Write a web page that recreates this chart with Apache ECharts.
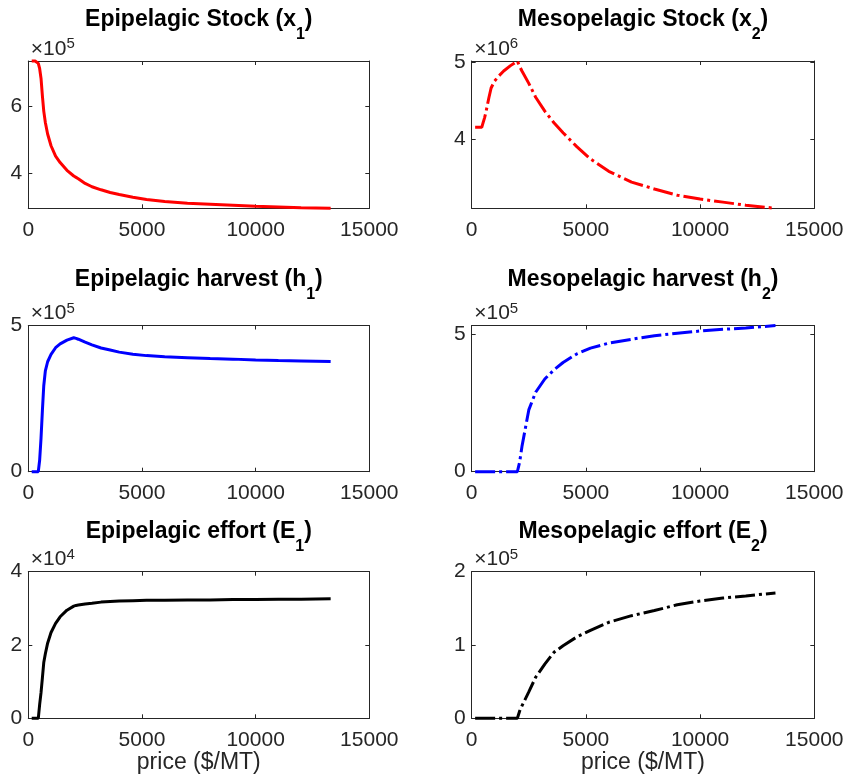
<!DOCTYPE html>
<html>
<head>
<meta charset="utf-8">
<script src="https://cdn.jsdelivr.net/npm/echarts@6/dist/echarts.min.js"></script>
<style>
  html, body { margin: 0; padding: 0; background: #fff; }
  #chart { width: 845px; height: 784px; }
</style>
</head>
<body>
<div id="chart"></div>
<script>
// price grid ($/MT), shared by all panels
var price = [150, 300, 440, 500, 560, 620, 680, 750, 850, 1000, 1200, 1400, 1700, 2000, 2100,
             2200, 2500, 2800, 3200, 3600, 4000, 4600, 5200, 6000, 7000, 8000, 9000, 10000,
             11000, 12000, 13300];

// stocks
var epiStock = [7.34e5, 7.34e5, 7.27e5, 7.11e5, 6.82e5, 6.30e5, 5.85e5, 5.51e5, 5.17e5, 4.82e5,
                4.51e5, 4.32e5, 4.09e5, 3.92e5, 3.88e5, 3.84e5, 3.70e5, 3.60e5, 3.51e5, 3.43e5,
                3.37e5, 3.29e5, 3.22e5, 3.16e5, 3.11e5, 3.08e5, 3.05e5, 3.02e5, 3.00e5, 2.98e5, 2.96e5];
var mesoStock = [4.16e6, 4.16e6, 4.16e6, 4.22e6, 4.28e6, 4.35e6, 4.44e6, 4.54e6, 4.67e6, 4.76e6,
                 4.83e6, 4.89e6, 4.96e6, 5.02e6, 4.95e6, 4.89e6, 4.73e6, 4.55e6, 4.37e6, 4.22e6,
                 4.09e6, 3.91e6, 3.75e6, 3.59e6, 3.45e6, 3.36e6, 3.28e6, 3.23e6, 3.19e6, 3.15e6, 3.11e6];

// harvests
var epiHarvest = [0, 0, 0, 0.40e5, 1.15e5, 2.09e5, 2.94e5, 3.45e5, 3.76e5, 4.01e5, 4.24e5, 4.37e5,
                  4.50e5, 4.58e5, 4.56e5, 4.53e5, 4.43e5, 4.34e5, 4.23e5, 4.16e5, 4.09e5, 4.02e5,
                  3.97e5, 3.93e5, 3.90e5, 3.87e5, 3.85e5, 3.82e5, 3.80e5, 3.79e5, 3.77e5];
var mesoHarvest = [0, 0, 0, 0, 0, 0, 0, 0, 0, 0, 0, 0, 0, 0, 0.35e5, 0.91e5, 2.24e5, 2.88e5, 3.36e5,
                   3.69e5, 3.96e5, 4.27e5, 4.48e5, 4.66e5, 4.80e5, 4.93e5, 5.02e5, 5.10e5, 5.16e5,
                   5.21e5, 5.30e5];

// effort
var epiEffort = [0, 0, 0, 0.38e4, 0.70e4, 1.10e4, 1.52e4, 1.76e4, 2.05e4, 2.34e4, 2.59e4, 2.77e4,
                 2.95e4, 3.06e4, 3.08e4, 3.09e4, 3.12e4, 3.14e4, 3.17e4, 3.19e4, 3.20e4, 3.21e4,
                 3.22e4, 3.22e4, 3.23e4, 3.23e4, 3.24e4, 3.24e4, 3.25e4, 3.25e4, 3.26e4];
var mesoEffort = [0, 0, 0, 0, 0, 0, 0, 0, 0, 0, 0, 0, 0, 0, 0.10e5, 0.17e5, 0.36e5, 0.56e5, 0.74e5,
                  0.90e5, 0.99e5, 1.11e5, 1.20e5, 1.31e5, 1.40e5, 1.47e5, 1.55e5, 1.60e5, 1.64e5,
                  1.67e5, 1.71e5];

// tick values
var xTicks = [0, 5000, 10000, 15000];
var ticksEpiStock = [4e5, 6e5];
var ticksMesoStock = [4e6, 5e6];
var ticksEpiHarvest = [0, 5e5];
var ticksMesoHarvest = [0, 5e5];
var ticksEpiEffort = [0, 2e4, 4e4];
var ticksMesoEffort = [0, 1e5, 2e5];

var FONT = 'Liberation Sans, Arial, Helvetica, sans-serif';
var AX = '#262626';

var colLeft = [28.3, 471.7], colWidth = [341, 342.6];
var rowTop = [61, 325.5, 571.7], rowHeight = [147.3, 146.2, 146.6];
var titleTop = [8.6, 268.6, 520.3];

var panels = [
  {title: 'Epipelagic Stock (x', sub: '1', exp: 5, data: epiStock, ticks: ticksEpiStock,
   min: Math.min.apply(null, epiStock), max: Math.max.apply(null, epiStock), color: '#ff0000', col: 0, row: 0},
  {title: 'Mesopelagic Stock (x', sub: '2', exp: 6, data: mesoStock, ticks: ticksMesoStock,
   min: Math.min.apply(null, mesoStock), max: Math.max.apply(null, mesoStock), color: '#ff0000', col: 1, row: 0},
  {title: 'Epipelagic harvest (h', sub: '1', exp: 5, data: epiHarvest, ticks: ticksEpiHarvest,
   min: 0, max: 5e5, color: '#0000ff', col: 0, row: 1},
  {title: 'Mesopelagic harvest (h', sub: '2', exp: 5, data: mesoHarvest, ticks: ticksMesoHarvest,
   min: 0, max: Math.max.apply(null, mesoHarvest), color: '#0000ff', col: 1, row: 1},
  {title: 'Epipelagic effort (E', sub: '1', exp: 4, data: epiEffort, ticks: ticksEpiEffort,
   min: 0, max: 4e4, color: '#000000', col: 0, row: 2},
  {title: 'Mesopelagic effort (E', sub: '2', exp: 5, data: mesoEffort, ticks: ticksMesoEffort,
   min: 0, max: 2e5, color: '#000000', col: 1, row: 2}
];

function makeAxisLine() {
  return {show: true, onZero: false, lineStyle: {color: AX, width: 1}};
}
function makeTick(vals) {
  return {show: true, inside: true, length: 4, customValues: vals, lineStyle: {color: AX, width: 1}};
}

var grids = [], xAxes = [], yAxes = [], series = [], graphics = [];

panels.forEach(function (p, i) {
  var c = p.col, r = p.row;
  var scale = Math.pow(10, p.exp);
  grids.push({left: colLeft[c], top: rowTop[r], width: colWidth[c], height: rowHeight[r],
              outerBoundsMode: 'none'});

  xAxes.push({
    gridIndex: i, type: 'value', position: 'bottom', min: 0, max: 15000,
    axisLine: makeAxisLine(), axisTick: makeTick(xTicks), splitLine: {show: false},
    axisLabel: {customValues: xTicks, margin: 11, fontSize: 21, fontFamily: FONT, color: AX,
      formatter: function (v) { return String(v); }},
    name: r === 2 ? 'price ($/MT)' : '', nameLocation: 'middle', nameGap: 33,
    nameTextStyle: {fontSize: 23, fontFamily: FONT, color: AX}
  });
  xAxes.push({
    gridIndex: i, type: 'value', position: 'top', min: 0, max: 15000,
    axisLine: makeAxisLine(), axisTick: makeTick(xTicks), splitLine: {show: false},
    axisLabel: {show: false}
  });
  yAxes.push({
    gridIndex: i, type: 'value', position: 'left', min: p.min, max: p.max,
    axisLine: makeAxisLine(), axisTick: makeTick(p.ticks), splitLine: {show: false},
    axisLabel: {customValues: p.ticks, margin: 6, fontSize: 21, fontFamily: FONT, color: AX,
      formatter: function (v) { return String(Math.round(v / scale * 10) / 10); }}
  });
  yAxes.push({
    gridIndex: i, type: 'value', position: 'right', min: p.min, max: p.max,
    axisLine: makeAxisLine(), axisTick: makeTick(p.ticks), splitLine: {show: false},
    axisLabel: {show: false}
  });

  series.push({
    type: 'line', xAxisIndex: 2 * i, yAxisIndex: 2 * i, showSymbol: false, clip: false,
    animation: false, silent: true,
    lineStyle: {color: p.color, width: 3, type: c === 1 ? [20, 4, 3, 4] : 'solid'},
    data: price.map(function (x, k) { return [x, p.data[k]]; })
  });

  // subplot title with subscript
  graphics.push({
    type: 'text', x: colLeft[c] + colWidth[c] / 2, y: titleTop[r],
    style: {
      text: '{a|' + p.title + '}{s|' + p.sub + '}{a|)}',
      align: 'center', verticalAlign: 'top', textAlign: 'center', textVerticalAlign: 'top',
      rich: {
        a: {fontSize: 23, fontWeight: 'bold', fontFamily: FONT, fill: '#000', color: '#000',
            lineHeight: 26, verticalAlign: 'top'},
        s: {fontSize: 16, fontWeight: 'bold', fontFamily: FONT, fill: '#000', color: '#000',
            lineHeight: 16, padding: [18, 0, 0, 0], verticalAlign: 'top'}
      }
    }
  });
  // exponent label
  graphics.push({
    type: 'text', x: colLeft[c] + 2.5, y: rowTop[r] - 24.5,
    style: {
      text: '{m|\u00d710}{p|' + p.exp + '}',
      align: 'left', verticalAlign: 'top', textAlign: 'left', textVerticalAlign: 'top',
      rich: {
        m: {fontSize: 21, fontFamily: FONT, fill: AX, color: AX, lineHeight: 24,
            padding: [2, 0, 0, 0], verticalAlign: 'top'},
        p: {fontSize: 15, fontFamily: FONT, fill: AX, color: AX, lineHeight: 16, verticalAlign: 'top'}
      }
    }
  });
});

var chart = echarts.init(document.getElementById('chart'), null, {renderer: 'canvas'});
chart.setOption({
  backgroundColor: '#ffffff',
  animation: false,
  grid: grids,
  xAxis: xAxes,
  yAxis: yAxes,
  series: series,
  graphic: {elements: graphics}
});
</script>
</body>
</html>
